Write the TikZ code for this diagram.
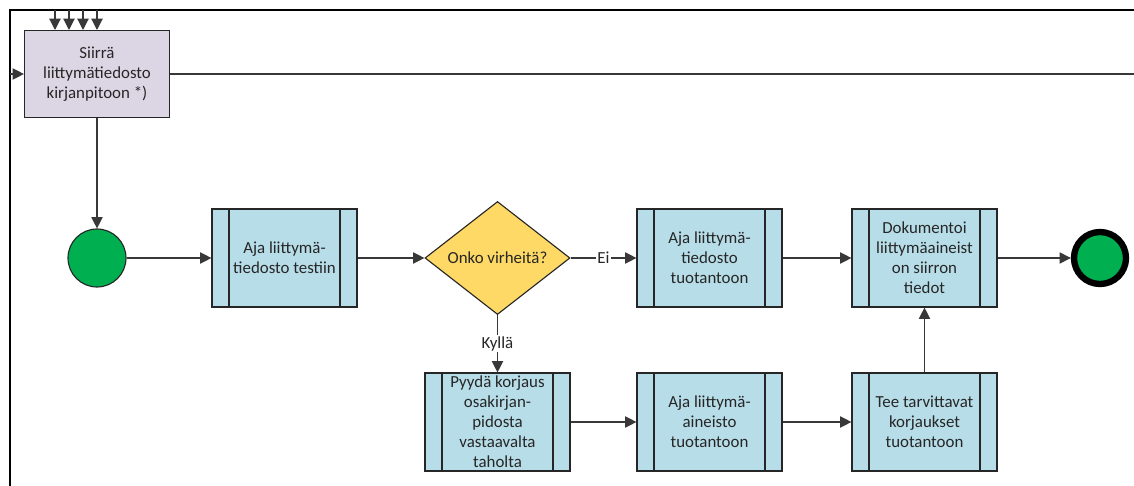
\documentclass[tikz,border=0pt]{standalone}
\usepackage{fontspec}
\setmainfont{Carlito}
\usepackage{xcolor}
\usetikzlibrary{shapes, arrows.meta, positioning, calc}
\definecolor{lilabox}{HTML}{DCD6E4}
\definecolor{sinibox}{HTML}{B7DDE8}
\definecolor{keltainen}{HTML}{FFD966}
\definecolor{vihrea}{HTML}{00B050}
\tikzset{
    tehtava/.style={
        rectangle,
        draw=black!85,
        fill=lilabox,
        minimum width=3.625cm,
        minimum height=2.175cm,
        align=center,
        font=\fontsize{12}{14.2}\selectfont,
    },
    aliprosessi/.style={
        rectangle,
        draw=black!85,
        fill=sinibox,
        minimum width=3.625cm,
        minimum height=2.45cm,
        inner sep=0pt,
        align=center,
        font=\fontsize{12}{14.2}\selectfont,
        path picture={
            \draw[black!85] ([xshift=0.425cm]path picture bounding box.north west) -- ([xshift=0.425cm]path picture bounding box.south west);
            \draw[black!85] ([xshift=-0.425cm]path picture bounding box.north east) -- ([xshift=-0.425cm]path picture bounding box.south east);
        },
    },
    paatos/.style={
        diamond,
        draw=black!85,
        fill=keltainen,
        minimum width=3.625cm,
        minimum height=2.825cm,
        inner sep=0pt,
        font=\fontsize{12}{14.2}\selectfont,
    },
    alku/.style={
        circle,
        draw=black!85,
        fill=vihrea,
        minimum size=1.45cm,
    },
    loppu/.style={
        circle,
        draw=black,
        line width=4.5pt,
        fill=vihrea,
        minimum size=1.3cm,
    },
    nimio/.style={
        fill=white,
        inner sep=1pt,
        font=\fontsize{12}{14.2}\selectfont,
    },
}

\begin{document}
\begin{tikzpicture}[x=0.025cm,y=-0.025cm,>={Triangle[length=8pt,width=8pt]},line width=0.8pt,color=black!78,text=black!85]
      \useasboundingbox (0,0) rectangle (1134,486);

      % kehys
      \coordinate (kulma) at (10,10);
      \coordinate (vasen-ala) at (10,486);
      \coordinate (oikea-yla) at (1134,10);
      \draw[line width=1.1pt, black] (vasen-ala) -- (kulma) -- (oikea-yla);

      \node [tehtava] (siirra) at (97,74) {Siirrä\\liittymätiedosto\\kirjanpitoon *)};
      \coordinate (oikea-siirra) at (1134,74);
      \coordinate (vasen-siirra) at (10,74);

      \node [alku] (alku) at (97,258) {};
      \node [aliprosessi] (testi) at (284.5,258) {Aja liittymä-\\tiedosto testiin};
      \node [paatos] (virhe) at (497.5,258) {Onko virheitä?};
      \node [aliprosessi] (tuotanto) at (709.5,258) {Aja liittymä-\\tiedosto\\tuotantoon};
      \node [aliprosessi] (dokumentoi) at (924.5,258) {Dokumentoi\\liittymäaineist\\on siirron\\tiedot};
      \node [loppu] (loppu) at (1100,258) {};

      \node [aliprosessi] (pyyda) at (497.5,422) {Pyydä korjaus\\osakirjan-\\pidosta\\vastaavalta\\taholta};
      \node [aliprosessi] (aineisto) at (709.5,422) {Aja liittymä-\\aineisto\\tuotantoon};
      \node [aliprosessi] (korjaa) at (924.5,422) {Tee tarvittavat\\korjaukset\\tuotantoon};

      % syotteet ylhaalta
      \foreach \x in {55,69,83,97} {
          \coordinate (yla-\x) at (\x,10);
          \draw[->] (yla-\x) -- (\x,30);
      }
      \draw[->] (vasen-siirra) -- (siirra.west);
      \draw (siirra.east) -- (oikea-siirra);

      \draw[->] (siirra) -- (alku);
      \draw[->] (alku) -- (testi);
      \draw[->] (testi) -- (virhe);
      \draw[->] (virhe) -- node[nimio] {Ei} (tuotanto);
      \draw[->] (tuotanto) -- (dokumentoi);
      \draw[->] (dokumentoi) -- (loppu);
      \draw[->] (virhe) -- node[nimio, pos=0.5] {Kyllä} (pyyda);
      \draw[->] (pyyda) -- (aineisto);
      \draw[->] (aineisto) -- (korjaa);
      \draw[->] (korjaa) -- (dokumentoi);
    \end{tikzpicture}
\end{document}
